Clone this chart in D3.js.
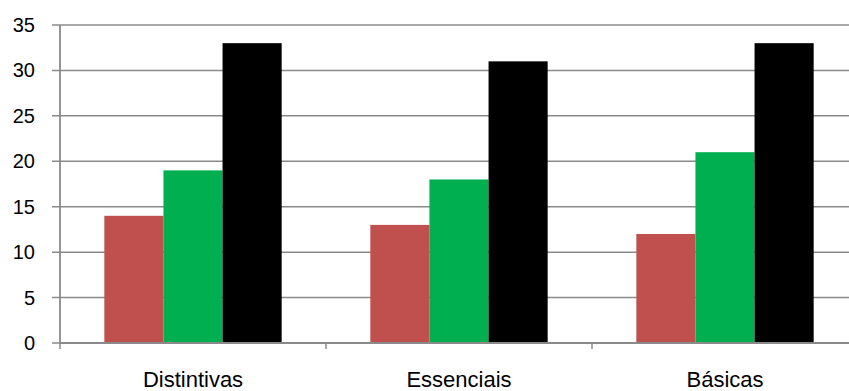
<!DOCTYPE html>
<html>
<head>
<meta charset="utf-8">
<script src="https://cdn.jsdelivr.net/npm/d3@7/dist/d3.min.js"></script>
<style>
  html, body { margin: 0; padding: 0; background: #fff; }
  svg { display: block; }
  text { font-family: "Liberation Sans", Arial, sans-serif; fill: #000; }
</style>
</head>
<body>
<svg id="chart" width="849" height="391"></svg>
<script>
// Categories and the three series (red, green, black)
const categories = ["Distintivas", "Essenciais", "Básicas"];
const seriesRed = [14, 13, 12];
const seriesGreen = [19, 18, 21];
const seriesBlack = [33, 31, 33];
const yTicks = [0, 5, 10, 15, 20, 25, 30, 35];

const colors = ["#C0504D", "#00B050", "#000000"];
const series = [seriesRed, seriesGreen, seriesBlack];

const svg = d3.select("#chart");
const plotLeft = 60, plotRight = 858, plotTop = 25, plotBottom = 343;

const x = d3.scaleBand().domain(categories).range([plotLeft, plotRight]).paddingInner(0).paddingOuter(0);
const inner = d3.scaleBand().domain(d3.range(series.length)).range([0, x.bandwidth()]).paddingOuter(0.75).paddingInner(0);
const y = d3.scaleLinear().domain([0, 35]).range([plotBottom, plotTop]);

const gridColor = "#8a8a8a";

// Horizontal gridlines with short tick stubs on the left
svg.append("g").selectAll("line").data(yTicks.filter(d => d > 0)).join("line")
  .attr("x1", plotLeft - 8).attr("x2", plotRight)
  .attr("y1", d => y(d)).attr("y2", d => y(d))
  .attr("stroke", gridColor).attr("stroke-width", 1.5);

// Bars
const groups = svg.append("g").selectAll("g").data(categories).join("g")
  .attr("transform", d => `translate(${x(d)},0)`);
groups.selectAll("rect")
  .data((d, i) => series.map((s, k) => ({ k, v: s[i] })))
  .join("rect")
  .attr("x", d => inner(d.k))
  .attr("width", inner.bandwidth())
  .attr("y", d => y(d.v))
  .attr("height", d => y(0) - y(d.v))
  .attr("fill", d => colors[d.k]);

// Y axis
const yAxis = svg.append("g");
yAxis.append("line").attr("x1", plotLeft).attr("x2", plotLeft).attr("y1", plotTop).attr("y2", plotBottom)
  .attr("stroke", gridColor).attr("stroke-width", 1.8);
yAxis.append("line").attr("x1", plotLeft - 8).attr("x2", plotLeft).attr("y1", plotBottom).attr("y2", plotBottom)
  .attr("stroke", gridColor).attr("stroke-width", 1.5);
yAxis.selectAll("text").data(yTicks).join("text")
  .attr("x", 35).attr("y", d => y(d))
  .attr("dy", "0.35em")
  .attr("text-anchor", "end")
  .attr("font-size", 20)
  .text(d => d);

// X axis
const xAxis = svg.append("g");
xAxis.append("line").attr("x1", plotLeft).attr("x2", plotRight).attr("y1", plotBottom).attr("y2", plotBottom)
  .attr("stroke", gridColor).attr("stroke-width", 1.8);
const boundaries = categories.map(c => x(c)).concat([x(categories[categories.length - 1]) + x.bandwidth()]);
xAxis.selectAll("line.tick").data(boundaries).join("line").attr("class", "tick")
  .attr("x1", d => d).attr("x2", d => d).attr("y1", plotBottom).attr("y2", plotBottom + 6)
  .attr("stroke", gridColor).attr("stroke-width", 1.5);
xAxis.selectAll("text.cat").data(categories).join("text").attr("class", "cat")
  .attr("x", d => x(d) + x.bandwidth() / 2)
  .attr("y", 387)
  .attr("text-anchor", "middle")
  .attr("font-size", 22)
  .text(d => d);
</script>
</body>
</html>
